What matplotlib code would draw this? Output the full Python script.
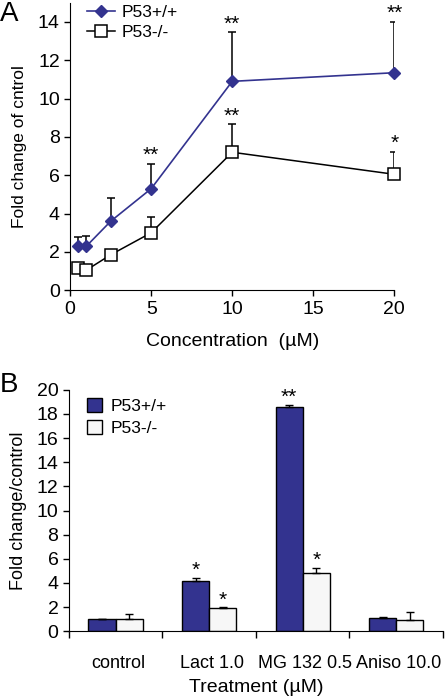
import numpy as np
import matplotlib
matplotlib.use("Agg")
import matplotlib.pyplot as plt

plt.rcParams['font.family'] = ['Liberation Sans', 'DejaVu Sans']

# --- panel A data ---
conc = [0.5, 1, 2.5, 5, 10, 20]
wt_mean = [2.3, 2.3, 3.6, 5.3, 10.9, 11.35]
wt_err = [0.5, 0.55, 1.2, 1.3, 2.55, 2.65]
ko_mean = [1.15, 1.05, 1.85, 3.0, 7.2, 6.05]
ko_err = [0.1, 0.1, 0.1, 0.8, 1.45, 1.15]
wt_stars = {5: "**", 10: "**", 20: "**"}
ko_stars = {10: "**", 20: "*"}

# --- panel B data ---
treatments = ["control", "Lact 1.0", "MG 132 0.5", "Aniso 10.0"]
wt_bar = [1.0, 4.15, 18.55, 1.1]
wt_bar_err = [0.02, 0.3, 0.2, 0.05]
ko_bar = [1.0, 1.9, 4.8, 0.95]
ko_bar_err = [0.45, 0.1, 0.45, 0.65]
wt_bar_stars = ["", "*", "**", ""]
ko_bar_stars = ["", "*", "*", ""]

navy = "#33338f"
fs = 14

fig = plt.figure(figsize=(4.47, 6.96), dpi=100)

# ---------- A ----------
ax = fig.add_axes([0.157, 0.583, 0.725, 0.413])
ax.errorbar(conc, wt_mean, yerr=[np.zeros(len(wt_err)), wt_err], fmt="none",
            ecolor="black", elinewidth=1.1, capsize=3, capthick=1.1, zorder=2)
ax.errorbar(conc, ko_mean, yerr=[np.zeros(len(ko_err)), ko_err], fmt="none",
            ecolor="black", elinewidth=1.1, capsize=3, capthick=1.1, zorder=2)
ax.plot(conc, wt_mean, color=navy, marker="D", markersize=6, markerfacecolor=navy,
        markeredgecolor=navy, lw=1.2, label="P53+/+", zorder=3, clip_on=False)
ax.plot(conc, ko_mean, color="black", marker="s", markersize=8, markerfacecolor="white",
        markeredgecolor="black", markeredgewidth=1.1, lw=1.1, label="P53-/-",
        zorder=3, clip_on=False)
for x, s in wt_stars.items():
    i = conc.index(x)
    ax.text(x, wt_mean[i] + wt_err[i] - 0.05, s, ha="center", va="bottom", fontsize=15)
for x, s in ko_stars.items():
    i = conc.index(x)
    ax.text(x, ko_mean[i] + ko_err[i] - 0.05, s, ha="center", va="bottom", fontsize=15)
ax.set_xlim(0, 20)
ax.set_ylim(0, 15)
ax.set_xticks([0, 5, 10, 15, 20])
ax.set_yticks(range(0, 15, 2))
ax.spines[["top", "right"]].set_visible(False)
ax.tick_params(labelsize=fs, length=4, width=1)
ax.set_xlabel("Concentration  (µM)", fontsize=fs, labelpad=11)
ax.set_ylabel("Fold change of cntrol", fontsize=12.5, labelpad=8)
ax.legend(loc="upper left", bbox_to_anchor=(0.02, 1.03), frameon=False,
          fontsize=12.5, handlelength=1.6, handletextpad=0.4, labelspacing=0.3,
          borderaxespad=0.2)
fig.text(0.0, 0.998, "A", fontsize=20, va="top", ha="left")

# ---------- B ----------
bx = fig.add_axes([0.154, 0.093, 0.837, 0.347])
pos = np.arange(len(treatments))
w = 0.29
bx.bar(pos - w / 2, wt_bar, w, color=navy, edgecolor="black", lw=1,
       yerr=[np.zeros(4), wt_bar_err], capsize=3, error_kw=dict(lw=1, capthick=1),
       label="P53+/+")
bx.bar(pos + w / 2, ko_bar, w, color="#f7f7f7", edgecolor="black", lw=1,
       yerr=[np.zeros(4), ko_bar_err], capsize=3, error_kw=dict(lw=1, capthick=1),
       label="P53-/-")
for i in range(len(treatments)):
    if wt_bar_stars[i]:
        bx.text(pos[i] - w / 2, wt_bar[i] + wt_bar_err[i] - 0.2, wt_bar_stars[i],
                ha="center", va="bottom", fontsize=15)
    if ko_bar_stars[i]:
        bx.text(pos[i] + w / 2, ko_bar[i] + ko_bar_err[i] - 0.2, ko_bar_stars[i],
                ha="center", va="bottom", fontsize=15)
bx.set_xlim(-0.5, len(treatments) - 0.5)
bx.set_ylim(0, 20)
bx.set_yticks(range(0, 21, 2))
bx.set_xticks(np.arange(-0.5, len(treatments)), minor=False)
bx.set_xticklabels([])
bx.set_xticks(pos + 0.03, minor=True)
bx.set_xticklabels(treatments, minor=True)
bx.tick_params(axis="x", which="minor", length=0, labelsize=13, pad=17)
bx.tick_params(axis="x", which="major", length=5, width=1)
bx.tick_params(axis="y", labelsize=fs, length=4, width=1)
bx.spines[["top", "right"]].set_visible(False)
bx.set_xlabel("Treatment (µM)", fontsize=fs, labelpad=5)
bx.set_ylabel("Fold change/control", fontsize=13, labelpad=7)
bx.legend(loc="upper left", bbox_to_anchor=(0.02, 1.01), frameon=False,
          fontsize=12.5, handlelength=0.9, handleheight=0.9, handletextpad=0.5,
          labelspacing=0.35, borderaxespad=0.2)
fig.text(0.0, 0.465, "B", fontsize=20, va="top", ha="left")

fig.savefig("out.png", dpi=100)
